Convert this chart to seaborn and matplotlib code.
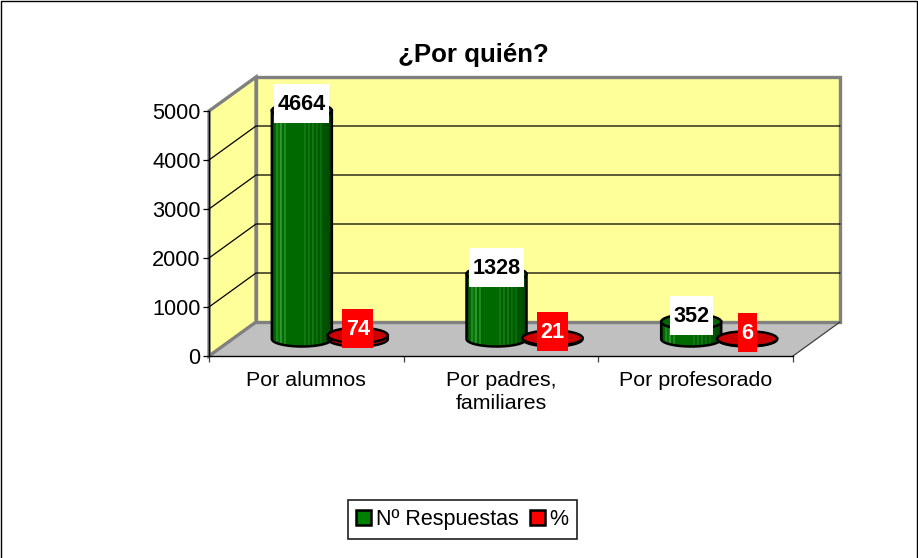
import numpy as np
import pandas as pd
import seaborn as sns
import matplotlib.pyplot as plt
from matplotlib.patches import Ellipse, PathPatch, Polygon, Rectangle
from matplotlib.path import Path

categorias = ['Por alumnos', 'Por padres,\nfamiliares', 'Por profesorado']
respuestas = [4664, 1328, 352]
porcentajes = [74, 21, 6]
series = ['Nº Respuestas', '%']
y_ticks = [0, 1000, 2000, 3000, 4000, 5000]

tabla = pd.DataFrame({
    'categoria': categorias * 2,
    'valor': respuestas + porcentajes,
    'serie': [series[0]] * 3 + [series[1]] * 3,
})

sns.set_theme(style='white')
plt.rcParams['font.family'] = ['Liberation Sans', 'DejaVu Sans']

W, H = 918, 558
fig = plt.figure(figsize=(W / 100, H / 100), dpi=100, facecolor='white')


def ax_px(left, top, right, bottom):
    return fig.add_axes([left / W, 1 - bottom / H, (right - left) / W, (bottom - top) / H])


# plano frontal y profundidad del "3D"
x0, x1, y0, y1 = 209, 793, 356, 111
dx, dy = 47, 34

# fondo: paredes y suelo en pixeles
bg = fig.add_axes([0, 0, 1, 1])
bg.set_xlim(0, W)
bg.set_ylim(H, 0)
bg.axis('off')
bg.add_patch(Polygon([(x0, y0), (x0 + dx, y0 - dy), (x1 + dx, y0 - dy), (x1, y0)], fc='#C0C0C0', ec='none'))
bg.add_patch(Polygon([(x0 + dx, y1 - dy), (x1 + dx, y1 - dy), (x1 + dx, y0 - dy), (x0 + dx, y0 - dy)],
                     fc='#FFFF99', ec='#808080', lw=2.4))
bg.add_patch(Polygon([(x0, y0), (x0, y1), (x0 + dx, y1 - dy), (x0 + dx, y0 - dy)],
                     fc='#FFFF99', ec='#808080', lw=2.4))
for t in y_ticks[1:-1]:
    yy = y0 + (y1 - y0) * t / y_ticks[-1]
    bg.plot([x0, x0 + dx, x1 + dx], [yy, yy - dy, yy - dy], color='black', lw=0.9)
bg.plot([x1, x1 + dx], [y0, y0 - dy], color='#404040', lw=0.9)
# marco exterior
bg.plot([0.5, 0.5, W - 1.5, W - 1.5], [H, 1, 1, H], color='black', lw=1)

# ejes del plano frontal
front = ax_px(x0, y1, x1, y0)
front.patch.set_alpha(0)
sns.despine(ax=front, top=True, right=True)
front.set_xlim(-0.5, 2.5)
front.set_ylim(0, y_ticks[-1])
front.set_yticks(y_ticks)
front.set_xticks(range(3))
front.set_xticklabels(categorias)
front.set_xticks([-0.5, 0.5, 1.5, 2.5], minor=True)
front.tick_params(axis='y', left=True, length=4, width=0.9, color='black', labelsize=15.7, pad=2, labelcolor='black')
front.tick_params(axis='x', which='major', length=0, labelsize=15.4, pad=11, labelcolor='black')
front.tick_params(axis='x', which='minor', bottom=True, length=4, width=0.9, color='#404040')
for lab in front.get_xticklabels():
    lab.set_linespacing(1.25)
for s in ['left', 'bottom']:
    front.spines[s].set_color('black')
    front.spines[s].set_linewidth(1)

# barras: plano medio de la profundidad
ax = ax_px(x0 + dx / 2, y1 - dy / 2, x1 + dx / 2, y0 - dy / 2)
ax.patch.set_alpha(0)
sns.barplot(data=tabla, x='categoria', y='valor', hue='serie', hue_order=series,
            palette=['#008000', '#FF0000'], width=0.575, gap=0, saturation=1, ax=ax)
handles, labels = ax.get_legend_handles_labels()
ax.get_legend().remove()
ax.set_xlim(-0.5, 2.5)
ax.set_ylim(0, y_ticks[-1])
ax.axis('off')

px_x = 3 / (x1 - x0)
px_y = y_ticks[-1] / (y0 - y1)
ry = 7.5 * px_y
verde = ['#004d00', '#006400', '#1f8a1f', '#0a740a', '#2f962f', '#006a00', '#1f8a1f', '#006a00', '#006a00', '#006a00',
         '#006a00', '#006a00', '#006a00', '#006a00', '#006a00', '#006a00', '#0f7a0f', '#006000', '#0f7a0f', '#005c00',
         '#0f7a0f', '#005c00', '#0a700a', '#005800', '#0a6c0a', '#005400', '#005400', '#005000', '#004c00', '#004000']
rojo = ['#cc0000'] * 30
estilos = [(verde, '#006600'), (rojo, '#CC0000')]

for cont, (tiras, tapa), valores in zip(ax.containers, estilos, [respuestas, porcentajes]):
    for p, v in zip(cont, valores):
        cx = p.get_x() + p.get_width() / 2
        hw = 30 * px_x
        top = p.get_height()
        th = np.linspace(np.pi, 2 * np.pi, 40)
        xs = cx + hw * np.cos(th)
        ys = ry * np.sin(th)
        cuerpo = np.vstack([[cx - hw, top], np.column_stack([xs, ys]), [cx + hw, top], [cx - hw, top]])
        contorno = PathPatch(Path(cuerpo, closed=True), fc='none', ec='black', lw=1.8, clip_on=False, zorder=3)
        ax.add_patch(contorno)
        for i, c in enumerate(tiras):
            xi = cx - hw + (i + 0.5) * 2 * hw / len(tiras)
            ln = ax.vlines(xi, -ry, top, color=c, lw=1.5, zorder=2)
            ln.set_clip_box(None)
            ln.set_clip_path(contorno)
        ax.add_patch(Ellipse((cx, top), 2 * hw, 2 * ry, fc=tapa, ec='black', lw=1.8, clip_on=False, zorder=4))
        # etiqueta con caja de color
        es_verde = tapa == '#006600'
        bw = (len(str(v)) * 12 + 7) * px_x
        bh = 39 * px_y
        yc = top + 6.5 * px_y
        ax.add_patch(Rectangle((cx - bw / 2, yc - bh / 2), bw, bh, fc='white' if es_verde else '#FF0000',
                               ec='none', clip_on=False, zorder=5))
        ax.text(cx, yc + 1.5 * px_y, str(v), ha='center', va='center_baseline', fontsize=15.6, fontweight='bold',
                color='black' if es_verde else 'white', zorder=6)

fig.text(473 / W, 1 - 55 / H, '¿Por quién?', ha='center', va='center', fontsize=18.6, fontweight='bold', color='black')

leg = fig.legend(handles, labels, loc='center', bbox_to_anchor=(462.5 / W, 1 - 519.5 / H), ncol=2,
                 fontsize=15.5, frameon=True, fancybox=False, framealpha=1, edgecolor='#202020',
                 handlelength=0.7, handleheight=0.7, handletextpad=0.2, columnspacing=0.55, borderpad=0.4,
                 borderaxespad=0, labelcolor='black')
leg.get_frame().set_linewidth(1.2)
for h in leg.legend_handles:
    h.set_edgecolor('black')
    h.set_linewidth(1.8)

fig.savefig('out.png', dpi=100)
